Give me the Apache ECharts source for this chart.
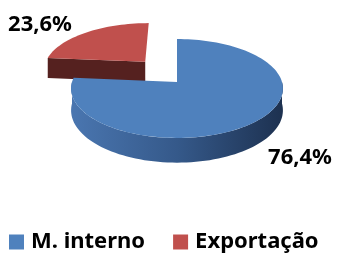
<!DOCTYPE html>
<html><head><meta charset="utf-8">
<script src="https://cdn.jsdelivr.net/npm/echarts@6/dist/echarts.min.js"></script>
<style>html,body{margin:0;padding:0;background:#fff}#c{width:337px;height:253px}</style>
</head><body><div id="c"></div>
<script>
// ---- data ----
const categories = ['M. interno', 'Exportação'];
const values = [76.4, 23.6];
const valueLabels = ['76,4%', '23,6%'];

// ---- layout / style ----
const colorsTop = ['#4F81BD', '#C0504D'];
const FONT = '"Noto Sans", "Open Sans", sans-serif';
const CX = 177, CY = 82, R = 105, RY = 48.6, P = 0.131, D0 = 21.5;
const explode = [[0, 0], [-0.32, -0.44]];
const labelPos = [[300, 158], [40, 25]];

const total = values.reduce((a, b) => a + b, 0);
const starts = [];
values.reduce((acc, v, i) => { starts[i] = acc; return acc + v; }, 0);

function proj(X, Z) {
  const s = 1 / (1 - P * Z);
  return [CX + R * X * s, CY + RY * Z * s, s];
}
function rim(ci, a, r) {
  const e = explode[ci];
  return proj(e[0] + r * Math.sin(a), e[1] - r * Math.cos(a));
}
function down(p) { return [p[0], p[1] + D0 * p[2]]; }

function renderItem(params, api) {
  const ci = api.value(0), st = api.value(1), v = api.value(2);
  const a0 = st / total * Math.PI * 2, a1 = (st + v) / total * Math.PI * 2;
  const apex = rim(ci, 0, 0);
  const children = [];
  const sideColor = ci === 0
    ? new echarts.graphic.LinearGradient(0, 0, 1, 0, [
        { offset: 0, color: '#4a76b0' }, { offset: 0.5, color: '#35598a' }, { offset: 1, color: '#1d3150' }])
    : '#55211f';
  // radial faces
  [[a0, -Math.sin(a0)], [a1, Math.sin(a1)]].forEach(([a, nz]) => {
    if (nz > 0.05) {
      const p = rim(ci, a, 1);
      children.push({ type: 'polygon', shape: { points: [apex.slice(0, 2), p.slice(0, 2), down(p), down(apex)] },
        style: { fill: ci === 0 ? '#2c4a75' : '#55211f' } });
    }
  });
  // outer wall (front half)
  const w0 = Math.max(a0, Math.PI / 2), w1 = Math.min(a1, Math.PI * 1.5);
  if (w1 > w0) {
    const top = [], bot = [];
    const n = 80;
    for (let i = 0; i <= n; i++) {
      const a = w0 + (w1 - w0) * i / n;
      const p = rim(ci, a, 1);
      top.push(p.slice(0, 2)); bot.push(down(p));
    }
    children.push({ type: 'polygon', shape: { points: top.concat(bot.reverse()) }, style: { fill: sideColor } });
  }
  // top face
  const pts = [apex.slice(0, 2)];
  const n = Math.max(8, Math.round((a1 - a0) / (Math.PI * 2) * 160));
  for (let i = 0; i <= n; i++) {
    const a = a0 + (a1 - a0) * i / n;
    pts.push(rim(ci, a, 1).slice(0, 2));
  }
  children.push({ type: 'polygon', shape: { points: pts }, style: { fill: colorsTop[ci] } });
  // label
  children.push({ type: 'text', style: { text: valueLabels[ci], x: labelPos[ci][0], y: labelPos[ci][1],
    align: 'center', verticalAlign: 'middle', font: 'bold 22px ' + FONT, fill: '#000' } });
  return { type: 'group', children };
}

// draw order: later categories (exploded, behind) first
const order = categories.map((c, i) => i).reverse();
const series = order.map(i => ({
  type: 'custom', name: categories[i], coordinateSystem: 'none', silent: true,
  itemStyle: { color: colorsTop[i] },
  renderItem, data: [[i, starts[i], values[i]]]
}));

const chart = echarts.init(document.getElementById('c'), null, { renderer: 'canvas' });
chart.setOption({
  animation: false,
  legend: {
    data: categories, left: 4, top: 226, icon: 'rect', itemWidth: 15, itemHeight: 15, itemGap: 28,
    textStyle: { fontFamily: FONT, fontWeight: 'bold', fontSize: 22, color: '#000', padding: [0, 0, 0, 2] }
  },
  series
});
</script></body></html>
